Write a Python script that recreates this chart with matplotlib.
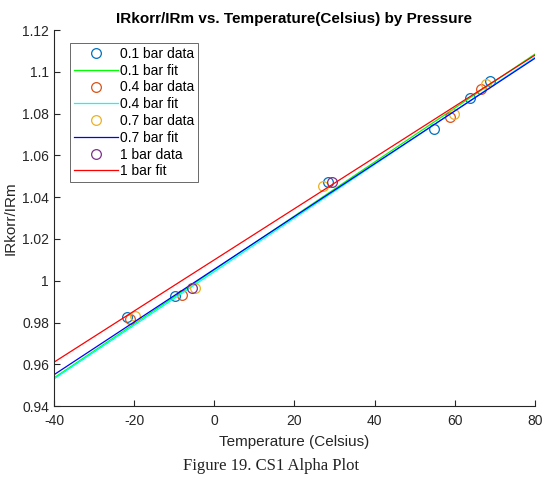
import numpy as np
from matplotlib import pyplot as plt

# data
temp_01 = [-21.75, -9.75, 28.5, 54.75, 63.75, 68.75]
ratio_01 = [0.9828, 0.9928, 1.0474, 1.0728, 1.0876, 1.0957]
temp_04 = [-21.0, -8.0, 58.75, 66.5]
ratio_04 = [0.9818, 0.9933, 1.0785, 1.0919]
temp_07 = [-19.75, -4.75, 27.25, 59.75, 67.75]
ratio_07 = [0.9830, 0.9966, 1.0455, 1.0800, 1.0943]
temp_1 = [-5.5, 29.5]
ratio_1 = [0.9963, 1.0474]

# fit lines, value at the ends of the axis
fit_x = [-40, 80]
fit_01 = [0.9535, 1.1085]
fit_04 = [0.9530, 1.1070]
fit_07 = [0.9550, 1.1065]
fit_1 = [0.9610, 1.1080]

plt.rcParams['font.family'] = ['Liberation Sans', 'DejaVu Sans']
plt.rcParams['axes.unicode_minus'] = False

fig = plt.figure(figsize=(5.43, 4.94), dpi=100)
ax = fig.add_axes([0.0994, 0.178, 0.8856, 0.761])

mk = dict(marker='o', markersize=7, markerfacecolor='none', linestyle='none', markeredgewidth=0.9)
ax.plot(temp_01, ratio_01, markeredgecolor='#0072BD', label='0.1 bar data', **mk)
ax.plot(fit_x, fit_01, color='#00FF00', lw=0.9, label='0.1 bar fit')
ax.plot(temp_04, ratio_04, markeredgecolor='#D95319', label='0.4 bar data', **mk)
ax.plot(fit_x, fit_04, color='#00FFFF', lw=0.9, label='0.4 bar fit')
ax.plot(temp_07, ratio_07, markeredgecolor='#EDB120', label='0.7 bar data', **mk)
ax.plot(fit_x, fit_07, color='#0000FF', lw=0.9, label='0.7 bar fit')
ax.plot(temp_1, ratio_1, markeredgecolor='#7E2F8E', label='1 bar data', **mk)
ax.plot(fit_x, fit_1, color='#FF0000', lw=0.9, label='1 bar fit')

ax.set_xlim(-40, 80)
ax.set_ylim(0.94, 1.12)
ax.set_xticks(np.arange(-40, 81, 20))
ax.set_yticks(np.arange(0.94, 1.121, 0.02))
ax.set_yticklabels(['0.94', '0.96', '0.98', '1', '1.02', '1.04', '1.06', '1.08', '1.1', '1.12'])
ax.tick_params(direction='in', length=4, labelsize=10, colors='#262626')
ax.tick_params(axis='x', pad=6)
for s in ['top', 'right']:
    ax.spines[s].set_visible(False)
for s in ['left', 'bottom']:
    ax.spines[s].set_color('#262626')
    ax.spines[s].set_linewidth(0.8)

ax.set_xlabel('Temperature (Celsius)', fontsize=11, color='#262626', labelpad=5)
ax.set_ylabel('IRkorr/IRm', fontsize=11, color='#262626', labelpad=3)
ax.set_title('IRkorr/IRm vs. Temperature(Celsius) by Pressure', fontsize=11,
             fontweight='bold', pad=5)

leg = ax.legend(loc='upper left', bbox_to_anchor=(0.018, 0.985), fontsize=10,
                frameon=True, fancybox=False, handlelength=3.2,
                borderpad=0.3, labelspacing=0.2, handletextpad=0.1)
leg.get_frame().set_edgecolor('#262626')
leg.get_frame().set_linewidth(0.6)

fig.text(0.5, 0.056, 'Figure 19. CS1 Alpha Plot', ha='center', va='center',
         fontsize=12, family=['Liberation Serif', 'DejaVu Serif'], color='#222222')

fig.savefig('out.png', dpi=100)
